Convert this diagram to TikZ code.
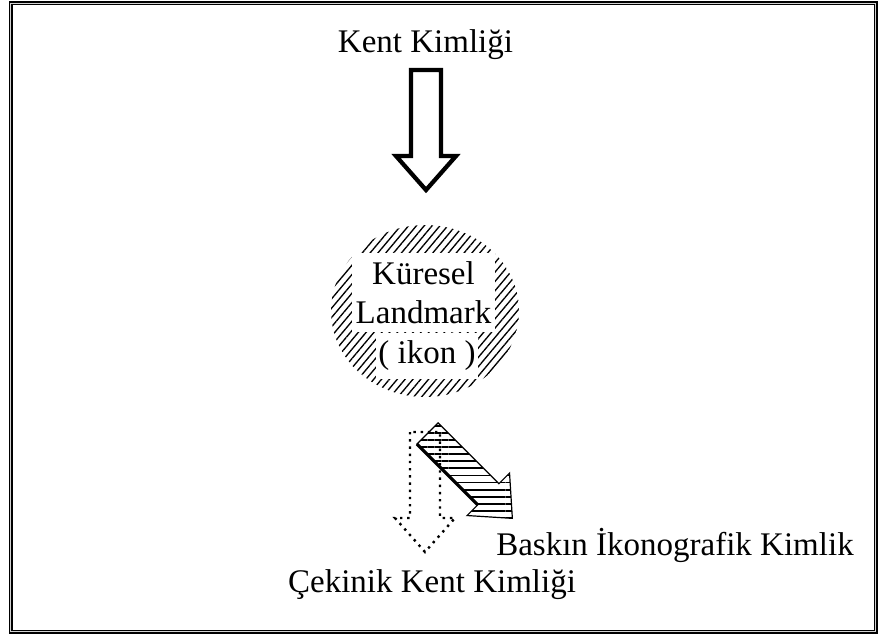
\documentclass[tikz,border=0pt]{standalone}
\usepackage{fontspec}
\setmainfont{Liberation Serif}
\usetikzlibrary{patterns.meta}

\tikzset{
  lbl/.style={font=\fontsize{24.75}{29.6}\selectfont, inner sep=0pt},
  % block arrow pointing down, tail at the pic origin
  blockarrow/.pic={
    \draw[#1] (-15,0) -- (-15,86) -- (-30,86) -- (0,120) -- (30,86) -- (15,86) -- (15,0) -- cycle;
  },
  boldarrow/.style={line width=3.2pt, line join=miter},
  weakarrow/.style={line width=1.8pt, dash pattern=on 1.8pt off 3.6pt},
  strongarrow/.style={line width=0.9pt, pattern={Lines[angle=0,distance=5.3pt,line width=1.4pt]}},
}

\begin{document}
\begin{tikzpicture}[x=0.75pt, y=-0.75pt]
\useasboundingbox (0,0) rectangle (880,638);

% Frame
\draw[line width=0.9pt, double=gray!35, double distance=1.2pt] (10.5,3.5) rectangle (875.5,631.5);

% Kent Kimligi
\node[lbl, anchor=base] (kent) at (425.5,53) {Kent Kimliği};
\pic at (426,70) {blockarrow=boldarrow};

% Kuresel landmark
\fill[pattern={Lines[angle=50,distance=4.5pt,line width=1pt]}] (425,311) ellipse [x radius=94, y radius=86];
\node[lbl, fill=white, align=center, minimum width=107pt, minimum height=59pt] (kuresel) at (423.5,292.5) {Küresel\\Landmark};
\node[lbl, fill=white, minimum width=76.5pt, minimum height=34pt] (ikon) at (427,356) {( ikon )};

% Cekinik / baskin
\pic at (425,432) {blockarrow=weakarrow};
\pic[rotate=45] at (427.5,433.5) {blockarrow=strongarrow};
\draw[line width=2.4pt, shift={(427.5,433.5)}, rotate=45] (-15,0) -- (-15,86);

\node[lbl, anchor=base] (baskin) at (675,555) {Baskın İkonografik Kimlik};
\node[lbl, anchor=base] (cekinik) at (432,592) {Çekinik Kent Kimliği};

\end{tikzpicture}
\end{document}
